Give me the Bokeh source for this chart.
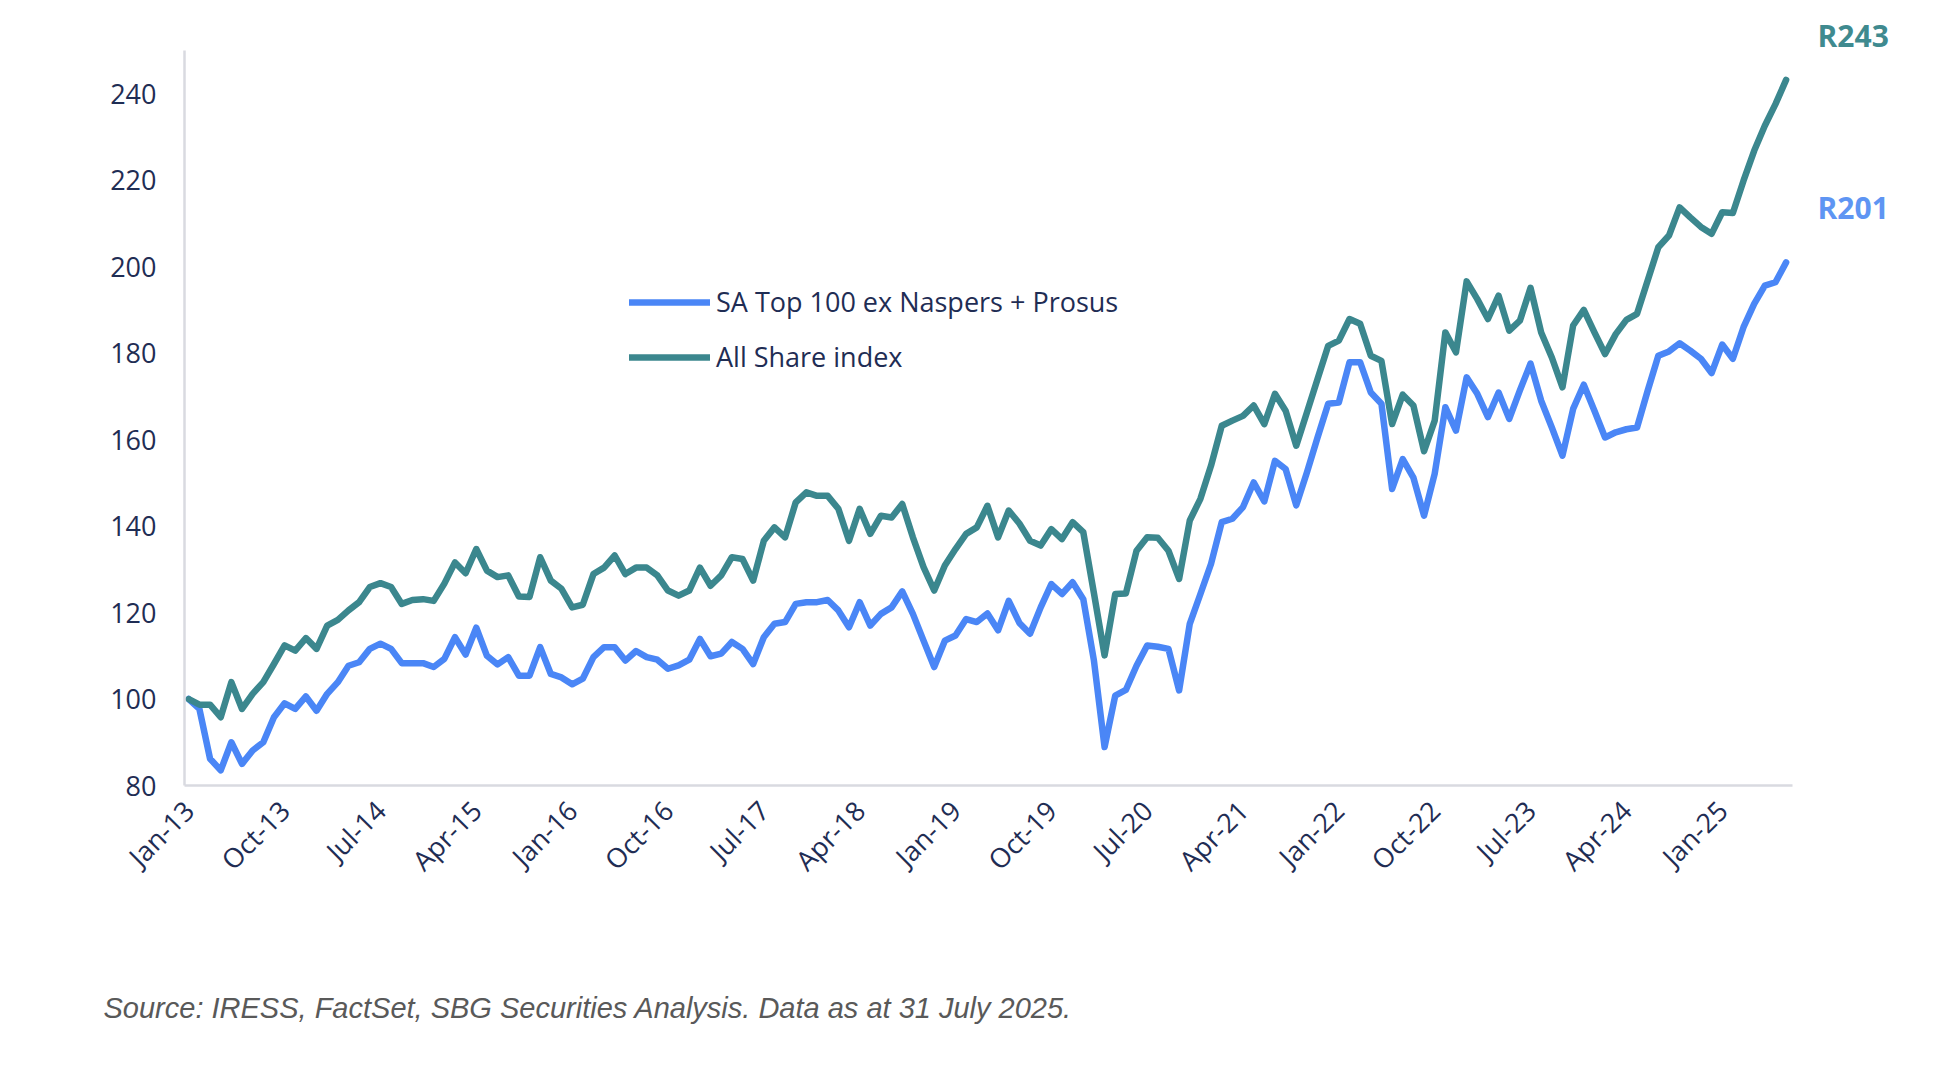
import math
from bokeh.plotting import figure
from bokeh.models import Range1d, FixedTicker, Legend, LegendItem, Label, Title
from bokeh.embed import file_html
from bokeh.resources import INLINE

# ---- data (monthly, Jan-13 .. Jul-25), rebased to 100 ----
all_share = [
    100.0, 98.7, 98.7, 95.8, 103.9, 97.7, 101.2, 103.9, 108.1, 112.4,
    111.2, 114.1, 111.6, 117.0, 118.3, 120.5, 122.4, 125.9, 126.8, 125.9,
    122.0, 122.9, 123.1, 122.7, 126.7, 131.6, 129.1, 134.7, 129.7, 128.2,
    128.6, 123.7, 123.6, 132.8, 127.4, 125.5, 121.2, 121.8, 128.9, 130.4,
    133.2, 128.9, 130.4, 130.4, 128.6, 125.1, 123.9, 125.1, 130.4, 126.2,
    128.6, 132.8, 132.4, 127.4, 136.6, 139.7, 137.4, 145.5, 147.8, 147.0,
    147.0, 144.0, 136.6, 144.0, 138.2, 142.4, 142.0, 145.1, 137.4, 130.5,
    125.1, 130.9, 134.7, 138.2, 139.7, 144.7, 137.4, 143.6, 140.6, 136.6,
    135.5, 139.3, 137.0, 140.9, 138.6, 124.5, 110.1, 124.3, 124.4, 134.3,
    137.4, 137.3, 134.3, 127.8, 141.3, 146.3, 154.0, 163.2, 164.4, 165.5,
    167.9, 163.6, 170.6, 166.7, 158.6, 166.3, 174.0, 181.7, 182.9, 187.9,
    186.8, 179.4, 178.2, 163.6, 170.4, 167.9, 157.3, 164.4, 184.8, 180.2,
    196.6, 192.5, 187.9, 193.3, 185.2, 187.5, 195.1, 184.8, 179.0, 172.1,
    186.4, 190.0, 184.8, 179.8, 184.4, 187.7, 189.1, 196.8, 204.5, 207.2,
    213.7, 211.4, 209.2, 207.6, 212.6, 212.4, 219.9, 226.8, 232.6, 237.6,
    243.2,
]
top100_ex = [
    100.0, 97.7, 86.2, 83.5, 90.0, 85.0, 88.1, 90.0, 95.8, 99.0,
    97.7, 100.6, 97.3, 101.2, 103.9, 107.7, 108.5, 111.6, 112.8, 111.6,
    108.3, 108.3, 108.3, 107.4, 109.3, 114.3, 110.3, 116.5, 110.0, 108.0,
    109.7, 105.4, 105.4, 112.0, 105.8, 105.0, 103.4, 104.7, 109.7, 112.0,
    112.0, 108.9, 111.1, 109.7, 109.1, 107.0, 107.8, 109.1, 113.9, 109.9,
    110.5, 113.2, 111.6, 108.1, 114.3, 117.4, 117.8, 122.0, 122.4, 122.4,
    122.9, 120.5, 116.6, 122.4, 117.0, 119.7, 121.2, 124.9, 119.7, 113.5,
    107.4, 113.5, 114.7, 118.5, 117.8, 119.8, 115.9, 122.7, 117.6, 115.1,
    121.2, 126.6, 124.3, 127.0, 123.1, 108.9, 88.9, 100.8, 102.1, 107.7,
    112.4, 112.1, 111.6, 102.0, 117.4, 124.3, 131.3, 140.9, 141.7, 144.4,
    150.1, 145.7, 155.1, 153.2, 144.8, 152.4, 160.5, 168.3, 168.6, 177.9,
    177.9, 170.9, 168.3, 148.6, 155.5, 151.2, 142.4, 152.1, 167.5, 162.1,
    174.4, 170.6, 165.2, 170.9, 164.8, 171.4, 177.6, 169.0, 162.8, 156.3,
    167.1, 172.7, 166.7, 160.5, 161.7, 162.4, 162.8, 171.3, 179.4, 180.4,
    182.3, 180.6, 178.7, 175.4, 182.0, 178.7, 186.0, 191.4, 195.6, 196.4,
    201.0,
]
months = list(range(len(all_share)))
tick_labels = ["Jan-13", "Oct-13", "Jul-14", "Apr-15", "Jan-16", "Oct-16",
               "Jul-17", "Apr-18", "Jan-19", "Oct-19", "Jul-20", "Apr-21",
               "Jan-22", "Oct-22", "Jul-23", "Apr-24", "Jan-25"]
tick_step = 9
y_ticks = [80, 100, 120, 140, 160, 180, 200, 220, 240]
series_names = ["SA Top 100 ex Naspers + Prosus", "All Share index"]
source_text = "Source:  IRESS, FactSet, SBG Securities Analysis. Data as at 31 July 2025."

BLUE = "#4A86F6"
TEAL = "#3B878E"
NAVY = "#1F2D54"
FONT = "Open Sans"

# axis extents (the frame is wider/taller to hold the end-value labels)
X_AXIS = (-0.4, 150.6)
Y_AXIS = (80, 250)

p = figure(frame_width=1736, frame_height=770,
           min_border_left=184, min_border_right=10,
           min_border_top=15, min_border_bottom=10,
           x_range=Range1d(-0.4, 162.62), y_range=Range1d(80, 258.1),
           output_backend="svg", toolbar_location=None,
           background_fill_color="white", border_fill_color="white")
p.outline_line_color = None
p.grid.visible = False

r_blue = p.line(months, top100_ex, line_color=BLUE, line_width=6.5,
                line_join="round", line_cap="round")
r_teal = p.line(months, all_share, line_color=TEAL, line_width=6.5,
                line_join="round", line_cap="round")

# axes
tick_pos = [i * tick_step for i in range(len(tick_labels))]
p.xaxis.ticker = FixedTicker(ticks=tick_pos)
p.xaxis.major_label_overrides = {t: lab for t, lab in zip(tick_pos, tick_labels)}
p.xaxis.major_label_orientation = math.pi / 4
p.xaxis.bounds = X_AXIS
p.yaxis.ticker = FixedTicker(ticks=y_ticks)
p.yaxis.bounds = Y_AXIS
for ax in (p.xaxis, p.yaxis):
    ax.axis_line_color = "#D9DAE0"
    ax.axis_line_width = 2.5
    ax.major_tick_line_color = None
    ax.minor_tick_line_color = None
    ax.major_tick_in = 0
    ax.major_tick_out = 0
    ax.major_label_text_font = FONT
    ax.major_label_text_font_size = "27px"
    ax.major_label_text_color = NAVY
p.yaxis.major_label_standoff = 28
p.xaxis.major_label_standoff = 20

legend = Legend(items=[LegendItem(label=series_names[0], renderers=[r_blue]),
                       LegendItem(label=series_names[1], renderers=[r_teal])],
                location=(445, 410), orientation="vertical",
                glyph_width=81, glyph_height=30, label_height=30,
                label_standoff=6, spacing=18, padding=0, margin=0,
                border_line_color=None, background_fill_alpha=0,
                label_text_font=FONT, label_text_font_size="27px",
                label_text_color=NAVY)
p.add_layout(legend)

# end-value labels
p.add_layout(Label(x=156.3, y=253.4, text="R%d" % round(all_share[-1]),
                   text_font=FONT, text_font_style="bold", text_font_size="30px",
                   text_color="#3F8A8F", text_align="center", text_baseline="middle"))
p.add_layout(Label(x=156.3, y=213.7, text="R%d" % round(top100_ex[-1]),
                   text_font=FONT, text_font_style="bold", text_font_size="30px",
                   text_color="#5E95F3", text_align="center", text_baseline="middle"))

# source note
src = Title(text=source_text, align="left", offset=-81, standoff=191,
            text_font="Liberation Sans", text_font_style="italic",
            text_font_size="29px", text_color="#595959")
p.add_layout(src, "below")

open("out.html", "w").write(file_html(p, INLINE))
